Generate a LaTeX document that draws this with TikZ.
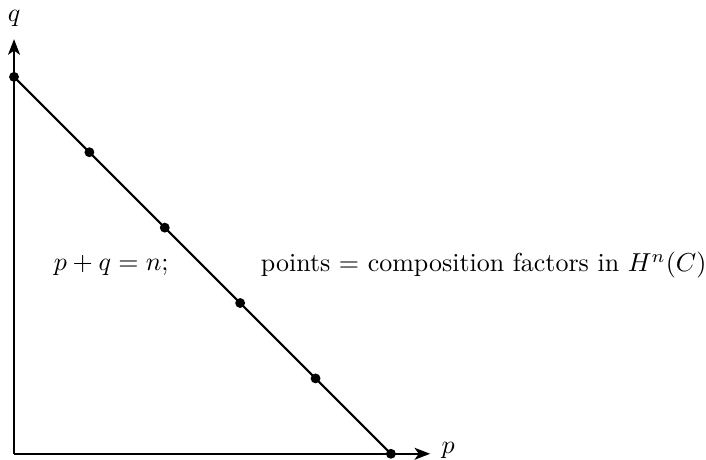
\documentclass[tikz,border=0pt]{standalone}
\usepackage{amsmath}
\usetikzlibrary{arrows.meta}

\begin{document}
\begin{tikzpicture}[
    x=1.02cm, y=1.02cm,
    axis/.style={-{Stealth[length=6pt, width=4.6pt, inset=1.6pt]}, thick},
    diag/.style={thick},
    dot/.style={circle, fill=black, inner sep=0pt, minimum size=3.8pt},
    lbl/.style={font=\normalsize},
]
\useasboundingbox (-0.186,-0.08) rectangle (9.18,6.02);

% axes
\coordinate (o)  at (0,0);
\coordinate (qe) at (0,5.5);
\coordinate (pe) at (5.52,0);
\draw[axis] (o) -- (qe);
\draw[axis] (o) -- (pe);
\node[lbl] (ql) at (0,5.78) {$q$};
\node[lbl] (pl) at (5.76,0.04) {$p$};

% the line p+q=n and its points
\foreach \k in {0,...,5}
  \node[dot] (d\k) at (\k,5-\k) {};
\draw[diag] (d0.center) -- (d5.center);

% labels
\node[lbl] (eq)  at (1.29,2.5) {$p+q=n;$};
\node[lbl] (pts) at (6.23,2.5) {points $=$ composition factors in $H^n(C)$};

\end{tikzpicture}
\end{document}
